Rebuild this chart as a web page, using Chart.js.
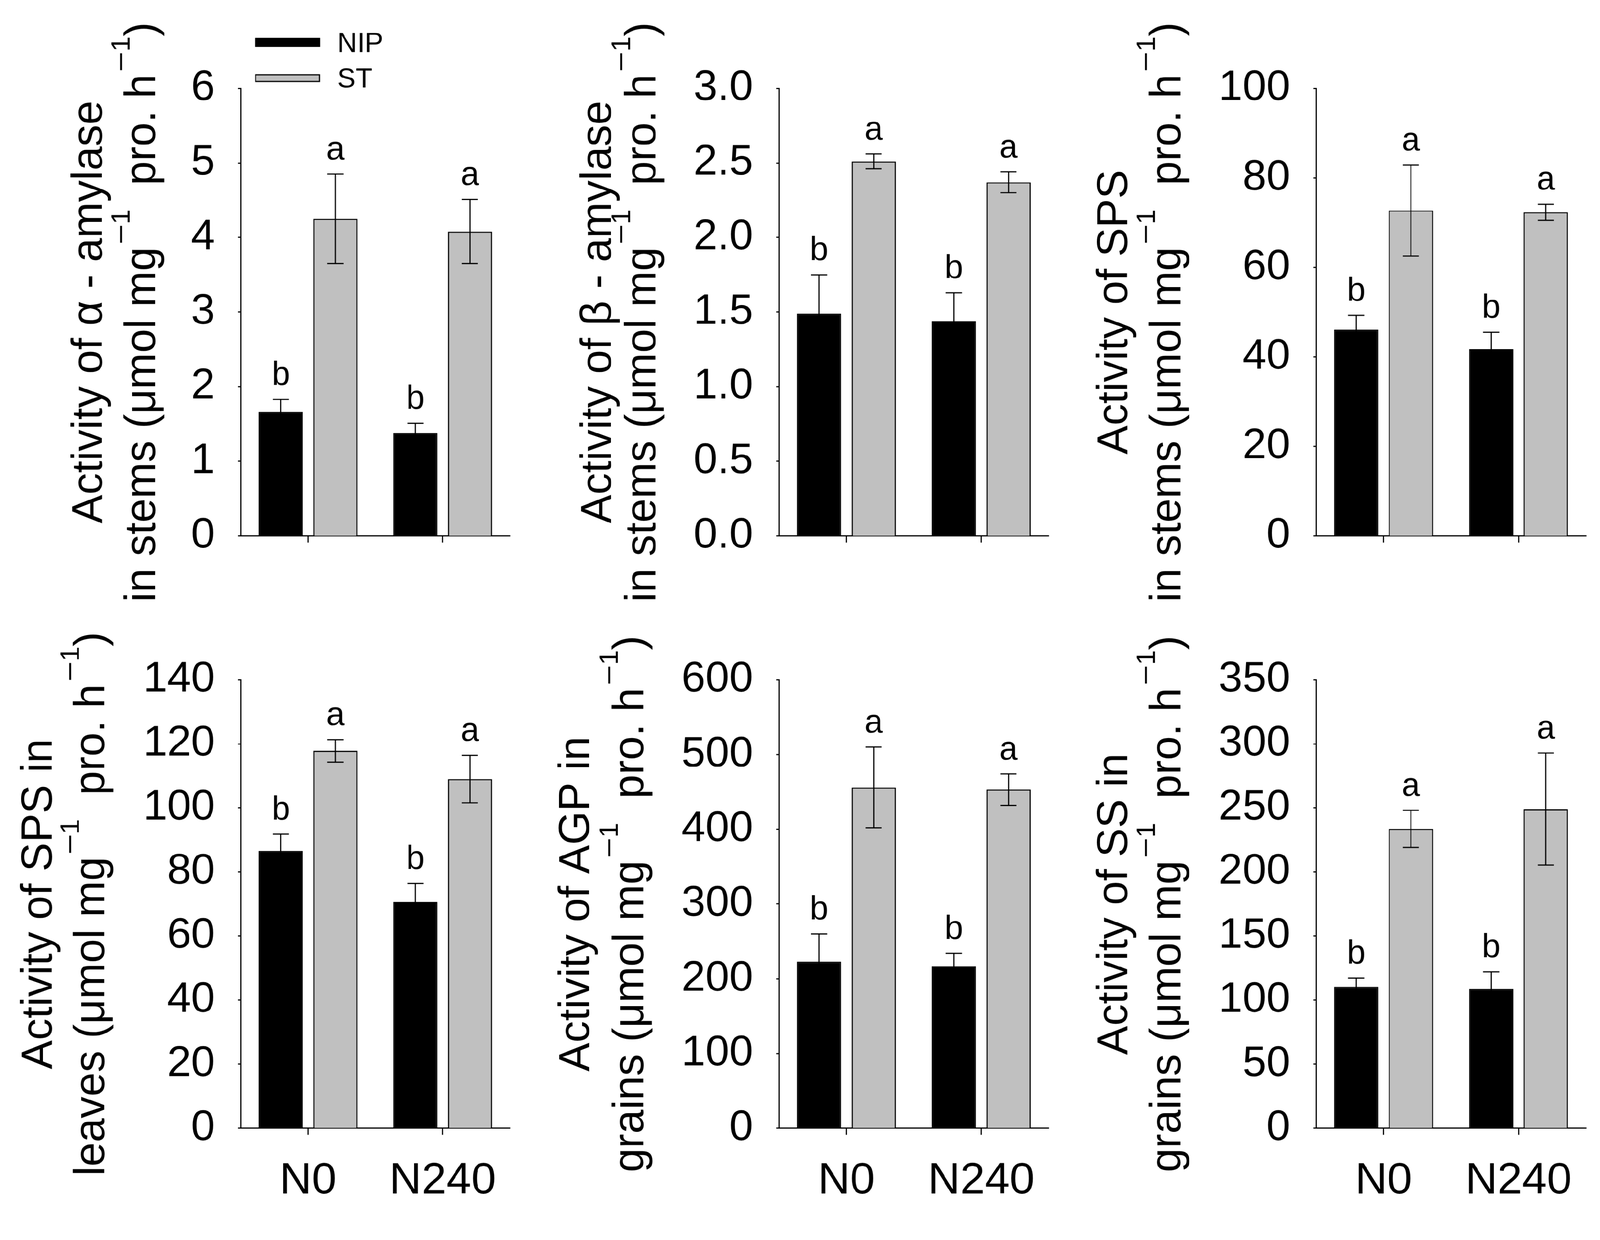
<!DOCTYPE html>
<html><head><meta charset="utf-8">
<script src="https://cdn.jsdelivr.net/npm/chart.js@4.4.1/dist/chart.umd.min.js"></script>
<style>
html,body{margin:0;padding:0;background:#fff;overflow:hidden;}
#wrap{position:absolute;left:0;top:0;width:4168px;height:3175px;transform-origin:0 0;background:#fff;}
canvas{position:absolute;}
</style></head><body>
<div id="wrap"></div>
<script>
// ---------------- DATA ----------------
const groups = ['N0', 'N240'];
const seriesNames = ['NIP', 'ST'];
const seriesColors = ['#000000', '#c0c0c0'];

// α-amylase in stems
const alphaNIP = [1.66, 1.38];
const alphaNIPErr = [0.17, 0.13];
const alphaST = [4.25, 4.08];
const alphaSTErr = [0.60, 0.43];
// β-amylase in stems
const betaNIP = [1.49, 1.44];
const betaNIPErr = [0.26, 0.19];
const betaST = [2.51, 2.37];
const betaSTErr = [0.05, 0.07];
// SPS in stems
const spsStemNIP = [46.1, 41.7];
const spsStemNIPErr = [3.2, 3.8];
const spsStemST = [72.7, 72.3];
const spsStemSTErr = [10.2, 1.8];
// SPS in leaves
const spsLeafNIP = [86.6, 70.6];
const spsLeafNIPErr = [5.2, 5.8];
const spsLeafST = [117.8, 109.0];
const spsLeafSTErr = [3.5, 7.4];
// AGP in grains
const agpNIP = [223, 217];
const agpNIPErr = [37, 17];
const agpST = [456, 453];
const agpSTErr = [54, 21];
// SS in grains
const ssNIP = [110.5, 108.7];
const ssNIPErr = [6.7, 13.3];
const ssST = [233.7, 249.1];
const ssSTErr = [14.5, 43.7];

const lettersNIP = ['b', 'b'];
const lettersST = ['a', 'a'];

// y axis tick settings per panel
const yMax = [6, 3, 100, 140, 600, 350];
const yStep = [1, 0.5, 20, 20, 100, 50];
const yDecimals = [0, 1, 0, 0, 0, 0];

const titleLine1 = ['Activity of α - amylase', 'Activity of β - amylase', 'Activity of SPS',
                    'Activity of SPS in', 'Activity of AGP in', 'Activity of SS in'];
const titleLine2 = ['in stems', 'in stems', 'in stems', 'leaves', 'grains', 'grains'];

const panelSeries = [
  [alphaNIP, alphaNIPErr, alphaST, alphaSTErr],
  [betaNIP, betaNIPErr, betaST, betaSTErr],
  [spsStemNIP, spsStemNIPErr, spsStemST, spsStemSTErr],
  [spsLeafNIP, spsLeafNIPErr, spsLeafST, spsLeafSTErr],
  [agpNIP, agpNIPErr, agpST, agpSTErr],
  [ssNIP, ssNIPErr, ssST, ssSTErr]
];

// ---------------- LAYOUT ----------------
const DESIGN_W = 4168, DESIGN_H = 3175;
const wrap = document.getElementById('wrap');
const fit = Math.min((window.innerWidth || DESIGN_W) / DESIGN_W, (window.innerHeight || DESIGN_H) / DESIGN_H);
const sc = fit > 0 ? fit : 1;
wrap.style.transform = 'scale(' + sc + ')';
const dpr = (window.devicePixelRatio || 1) * sc;

const FONT = '"Liberation Sans", Arial, Helvetica, sans-serif';
const CW = 1360;
const colAxisX = [627, 2029, 3428];
const colPlotRight = [1328, 2731, 4131];
const rowPlotTop = [230, 1771];
const rowPlotBottom = [1396, 2939];
const rowCanvasTop = [0, 1541];
const rowCanvasH = [1600, 1634];
const titleBase = [[266, 404], [1591, 1707], [2936, 3075], [134, 272], [1534, 1676], [2936, 3075]];

function drawRotated(ctx, segs, baseX, cy) {
  ctx.save();
  let total = 0;
  segs.forEach(s => { ctx.font = s.font; s.w = ctx.measureText(s.t).width * (s.sx || 1) + (s.gap || 0); total += s.w; });
  ctx.translate(baseX, cy);
  ctx.rotate(-Math.PI / 2);
  ctx.fillStyle = '#000';
  ctx.textAlign = 'left';
  ctx.textBaseline = 'alphabetic';
  let x = -total / 2;
  segs.forEach(s => {
    ctx.font = s.font;
    ctx.save();
    ctx.translate(x + (s.pre || 0), s.dy || 0);
    ctx.scale(s.sx || 1, 1);
    ctx.fillText(s.t, 0, 0);
    ctx.restore();
    x += s.w;
  });
  ctx.restore();
}

const decor = {
  id: 'decor',
  afterDatasetsDraw(chart, args, opts) {
    const ctx = chart.ctx, ys = chart.scales.y;
    ctx.save();
    ctx.strokeStyle = '#000';
    ctx.lineWidth = 3;
    chart.data.datasets.forEach((ds, di) => {
      const meta = chart.getDatasetMeta(di);
      meta.data.forEach((bar, i) => {
        const v = ds.data[i], e = ds.err[i];
        const x = bar.x;
        const yt = ys.getPixelForValue(v + e), yb = ys.getPixelForValue(v - e);
        ctx.beginPath();
        ctx.moveTo(x, yt); ctx.lineTo(x, yb);
        ctx.moveTo(x - 21, yt); ctx.lineTo(x + 21, yt);
        ctx.moveTo(x - 21, yb); ctx.lineTo(x + 21, yb);
        ctx.stroke();
        ctx.fillStyle = '#000';
        ctx.font = '86px ' + FONT;
        ctx.textAlign = 'center';
        ctx.textBaseline = 'alphabetic';
        ctx.fillText(ds.letters[i], x, yt - 38);
      });
    });
    ctx.restore();
  },
  afterDraw(chart, args, opts) {
    const ctx = chart.ctx;
    const ca = chart.chartArea;
    const cy = (ca.top + ca.bottom) / 2;
    const f1 = '113px ' + FONT, fs = '70px ' + FONT;
    drawRotated(ctx, [{ t: opts.line1, font: f1 }], opts.b1, cy);
    drawRotated(ctx, [
      { t: opts.line2 + ' (μmol mg', font: f1 },
      { t: '−', font: fs, dy: -66, sx: 1.3, pre: 6, gap: 6 },
      { t: '1', font: fs, dy: -66 },
      { t: '  pro. h', font: f1 },
      { t: '−', font: fs, dy: -66, sx: 1.3, pre: 6, gap: 6 },
      { t: '1', font: fs, dy: -66 },
      { t: ')', font: f1 }
    ], opts.b2, cy);
    if (opts.legend) {
      ctx.save();
      const rows = [[99, 122, 135], [193, 214, 228]];
      chart.data.datasets.forEach((ds, di) => {
        const r = rows[di];
        ctx.fillStyle = ds.backgroundColor;
        ctx.fillRect(664, r[0], 169, r[1] - r[0]);
        ctx.strokeStyle = '#000';
        ctx.lineWidth = 3;
        ctx.strokeRect(664 + 1.5, r[0] + 1.5, 169 - 3, r[1] - r[0] - 3);
        ctx.fillStyle = '#000';
        ctx.font = '72px ' + FONT;
        ctx.textAlign = 'left';
        ctx.textBaseline = 'alphabetic';
        ctx.fillText(ds.label, 878, r[2]);
      });
      ctx.restore();
    }
  }
};

for (let p = 0; p < 6; p++) {
  const col = p % 3, row = Math.floor(p / 3);
  const left = colAxisX[col] - 627;
  const top = rowCanvasTop[row];
  const h = rowCanvasH[row];
  const cv = document.createElement('canvas');
  cv.style.left = left + 'px'; cv.style.top = top + 'px';
  cv.style.width = CW + 'px'; cv.style.height = h + 'px';
  cv.width = CW; cv.height = h;
  wrap.appendChild(cv);
  const [nip, nipErr, st, stErr] = panelSeries[p];
  const padTop = rowPlotTop[row] - top;
  const plotBottomIn = rowPlotBottom[row] - top;
  const padRight = CW - (colPlotRight[col] - left);
  const yWidth = colAxisX[col] - left;
  const xH = h - plotBottomIn;
  const dec = yDecimals[p];
  new Chart(cv, {
    type: 'bar',
    data: {
      labels: groups,
      datasets: [
        { label: seriesNames[0], data: nip, err: nipErr, letters: lettersNIP,
          backgroundColor: seriesColors[0], borderColor: '#000', borderWidth: 3,
          categoryPercentage: 0.81, barPercentage: 0.81 },
        { label: seriesNames[1], data: st, err: stErr, letters: lettersST,
          backgroundColor: seriesColors[1], borderColor: '#000', borderWidth: 3,
          categoryPercentage: 0.81, barPercentage: 0.81 }
      ]
    },
    options: {
      responsive: false, maintainAspectRatio: false, animation: false, devicePixelRatio: dpr,
      layout: { padding: { left: 0, top: padTop, right: padRight, bottom: 0 } },
      plugins: {
        legend: { display: false }, tooltip: { enabled: false },
        decor: { line1: titleLine1[p], line2: titleLine2[p],
                 b1: titleBase[p][0] - left, b2: titleBase[p][1] - left, legend: p === 0 }
      },
      scales: {
        x: {
          offset: true,
          grid: { display: true, drawOnChartArea: false, drawTicks: true, tickLength: 17,
                  tickWidth: 3, tickColor: '#000', offset: false },
          border: { display: true, color: '#000', width: 3 },
          ticks: { display: row === 1, color: '#000', font: { family: FONT, size: 116 },
                   padding: 52, maxRotation: 0, autoSkip: false },
          afterFit(s) { s.height = xH; }
        },
        y: {
          min: 0, max: yMax[p],
          grid: { display: true, drawOnChartArea: false, drawTicks: true, tickLength: 7,
                  tickWidth: 3, tickColor: '#000' },
          border: { display: true, color: '#000', width: 3 },
          ticks: { stepSize: yStep[p], color: '#000', font: { family: FONT, size: 112 },
                   padding: 60, callback: v => Number(v).toFixed(dec) },
          afterFit(s) { s.width = yWidth; }
        }
      }
    },
    plugins: [decor]
  });
}
</script>
</body></html>
